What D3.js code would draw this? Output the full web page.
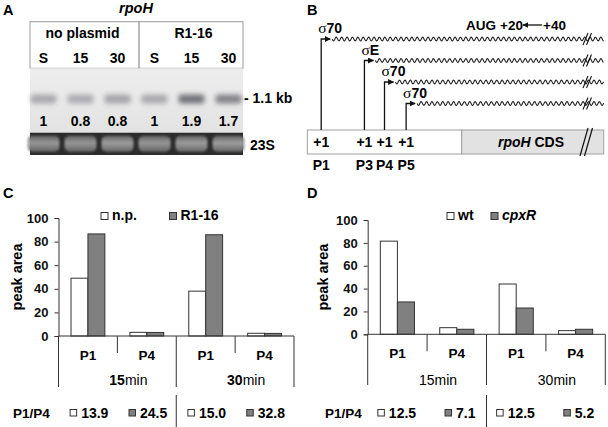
<!DOCTYPE html>
<html>
<head>
<meta charset="utf-8">
<script src="https://cdn.jsdelivr.net/npm/d3@7"></script>
<style>
  body { margin: 0; background: #fff; }
  svg { display: block; font-family: "Liberation Sans", Arial, sans-serif; font-weight: bold; }
</style>
</head>
<body>
<div id="fig"></div>
<script>
'use strict';

// ---- Panel A: northern blot ----
const gelGroups = ['no plasmid', 'R1-16'];
const gelLanes = ['S', '15', '30', 'S', '15', '30'];
const gelQuant = ['1', '0.8', '0.8', '1', '1.9', '1.7'];
const bandDensity = [0.42, 0.40, 0.45, 0.42, 0.80, 0.68];
const rrnaDensity = [0.9, 0.9, 0.95, 0.9, 0.95, 0.95];

// ---- Panel B: promoter map ----
const promoters = ['P1', 'P3', 'P4', 'P5'];
const promoterPos = [9, 37, 50, 64];          // leader position (schematic units)
const sigmaNames = ['70', 'E', '70', '70'];

// ---- Panels C / D: primer extension ----
const timeGroups = ['15min', '30min'];
const promoterCats = ['P1', 'P4'];
const yTicks = [0, 20, 40, 60, 80, 100];

const seriesC = ['n.p.', 'R1-16'];
const npValues = [49, 3.1, 38, 2.3];
const r116Values = [86.5, 3.0, 85.8, 2.2];
const ratiosC = ['13.9', '24.5', '15.0', '32.8'];

const seriesD = ['wt', 'cpxR'];
const wtValues = [81.5, 5.8, 44, 3.2];
const cpxRValues = [28.3, 4.4, 23, 4.4];
const ratiosD = ['12.5', '7.1', '12.5', '5.2'];

/* ````````````````````````````````` svg */
const W = 608, H = 427;
const FS = 14;
const svg = d3.select('#fig').append('svg')
    .attr('width', W)
    .attr('height', H);

const defs = svg.append('defs');
defs.append('filter').attr('id', 'blurBand')
    .attr('x', '-50%').attr('y', '-100%').attr('width', '200%').attr('height', '300%')
    .append('feGaussianBlur').attr('stdDeviation', 2.4);
defs.append('filter').attr('id', 'blurSoft')
    .attr('x', '-30%').attr('y', '-50%').attr('width', '160%').attr('height', '200%')
    .append('feGaussianBlur').attr('stdDeviation', 1.2);
defs.append('marker').attr('id', 'arrowHead')
    .attr('viewBox', '0 0 10 10').attr('refX', 9).attr('refY', 5)
    .attr('markerWidth', 6).attr('markerHeight', 6).attr('markerUnits', 'userSpaceOnUse')
    .attr('orient', 'auto')
    .append('path').attr('d', 'M0,0L10,5L0,10Z').attr('fill', '#111');
const gelGrad = defs.append('linearGradient').attr('id', 'gelGrad')
    .attr('x1', 0).attr('y1', 0).attr('x2', 0).attr('y2', 1);
gelGrad.append('stop').attr('offset', '0%').attr('stop-color', '#ededed');
gelGrad.append('stop').attr('offset', '100%').attr('stop-color', '#e3e3e3');
const rGrad = defs.append('linearGradient').attr('id', 'rrnaGrad')
    .attr('x1', 0).attr('y1', 0).attr('x2', 0).attr('y2', 1);
rGrad.append('stop').attr('offset', '0%').attr('stop-color', '#666');
rGrad.append('stop').attr('offset', '45%').attr('stop-color', '#a4a4a4');
rGrad.append('stop').attr('offset', '100%').attr('stop-color', '#6a6a6a');

// panel letters
[['A', 3, 15], ['B', 307, 15], ['C', 3, 198], ['D', 307, 198]].forEach(([t, x, y]) => {
    svg.append('text').attr('x', x).attr('y', y).attr('font-size', 14.5).text(t);
});

/* ````````````````````````````````` Panel A */
(function drawBlot() {
    const g = svg.append('g');
    const left = 30, right = 243;
    const top = 21.7, headBottom = 68.3, gelBottom = 132.7, bottom = 155;

    const lx = d3.scalePoint().domain(d3.range(gelLanes.length)).range([43.5, 228.5]);

    g.append('text').attr('x', 136).attr('y', 13).attr('text-anchor', 'middle')
        .attr('font-size', 14.5).attr('font-style', 'italic').text('rpoH');

    // header box
    g.append('rect').attr('x', left).attr('y', top)
        .attr('width', right - left).attr('height', headBottom - top)
        .attr('fill', '#fff').attr('stroke', '#9a9a9a');
    const midX = (lx(2) + lx(3)) / 2 + 3;
    g.append('line').attr('x1', midX).attr('x2', midX).attr('y1', top).attr('y2', headBottom)
        .attr('stroke', '#777');

    gelGroups.forEach((name, i) => {
        g.append('text').attr('x', (lx(i * 3) + lx(i * 3 + 2)) / 2 + 2).attr('y', 38)
            .attr('text-anchor', 'middle').attr('font-size', FS).text(name);
    });
    g.selectAll('.lane').data(gelLanes).join('text')
        .attr('class', 'lane')
        .attr('x', (d, i) => lx(i)).attr('y', 63)
        .attr('text-anchor', 'middle').attr('font-size', FS).text(d => d);

    // gel
    g.append('rect').attr('x', left).attr('y', headBottom)
        .attr('width', right - left).attr('height', gelBottom - headBottom)
        .attr('fill', 'url(#gelGrad)');
    g.selectAll('.band').data(bandDensity).join('rect')
        .attr('class', 'band')
        .attr('x', (d, i) => lx(i) - 13).attr('y', 94.5)
        .attr('width', 26).attr('height', 9).attr('rx', 3)
        .attr('fill', '#55555f').attr('opacity', d => d)
        .attr('filter', 'url(#blurBand)');
    g.selectAll('.quant').data(gelQuant).join('text')
        .attr('class', 'quant')
        .attr('x', (d, i) => lx(i)).attr('y', 126)
        .attr('text-anchor', 'middle').attr('font-size', FS).text(d => d);

    // 23S stain
    g.append('rect').attr('x', left).attr('y', gelBottom)
        .attr('width', right - left).attr('height', bottom - gelBottom)
        .attr('fill', '#2c2c2c');
    g.selectAll('.rrna').data(rrnaDensity).join('rect')
        .attr('class', 'rrna')
        .attr('x', (d, i) => lx(i) - 16).attr('y', gelBottom + 3)
        .attr('width', 32).attr('height', 16).attr('rx', 5)
        .attr('fill', 'url(#rrnaGrad)').attr('opacity', d => d)
        .attr('filter', 'url(#blurSoft)');

    g.append('text').attr('x', 244).attr('y', 103).attr('font-size', FS).text('- 1.1 kb');
    g.append('text').attr('x', 250).attr('y', 150).attr('font-size', FS).text('23S');
})();

/* ````````````````````````````````` Panel B */
(function drawMap() {
    const g = svg.append('g');
    const xs = d3.scaleLinear().domain([0, 100]).range([307.3, 461.7]);
    const cdsEnd = 192;
    const boxTop = 130, boxBottom = 154;
    const levels = d3.scalePoint().domain(promoters).range([39, 103.5]);

    // leader + CDS box
    g.append('rect').attr('x', xs(0)).attr('y', boxTop)
        .attr('width', xs(100) - xs(0)).attr('height', boxBottom - boxTop)
        .attr('fill', '#fff').attr('stroke', '#a0a0a0');
    g.append('rect').attr('x', xs(100)).attr('y', boxTop)
        .attr('width', xs(cdsEnd) - xs(100)).attr('height', boxBottom - boxTop)
        .attr('fill', '#e2e2e2').attr('stroke', '#a0a0a0');
    const cdsLabel = g.append('text').attr('x', 531).attr('y', 147)
        .attr('text-anchor', 'middle').attr('font-size', FS);
    cdsLabel.append('tspan').attr('font-style', 'italic').text('rpoH');
    cdsLabel.append('tspan').text(' CDS');
    [0, 4.5].forEach(dx => {
        g.append('line').attr('x1', 580 + dx).attr('x2', 588 + dx)
            .attr('y1', 156).attr('y2', 128).attr('stroke', '#111').attr('stroke-width', 1.2);
    });

    const wave = d3.line().x(d => d[0]).y(d => d[1]);
    promoters.forEach((p, i) => {
        const x = xs(promoterPos[i]);
        const y = levels(p);
        // transcript start arrow
        g.append('path')
            .attr('d', `M${x},${boxTop}V${y}H${x + 9}`)
            .attr('fill', 'none').attr('stroke', '#111').attr('stroke-width', 1.3)
            .attr('marker-end', 'url(#arrowHead)');
        // wavy transcript
        const x0 = x + 11;
        const pts = d3.range(x0, xs(cdsEnd), 0.5).map(px => [px, y + 1.9 * Math.sin((px - x0) / 5.4 * 2 * Math.PI)]);
        g.append('path').attr('d', wave(pts))
            .attr('fill', 'none').attr('stroke', '#222').attr('stroke-width', 1.1);
        [0, 3.5].forEach(dx => {
            g.append('line').attr('x1', 583 + dx).attr('x2', 588 + dx)
                .attr('y1', y + 6).attr('y2', y - 6).attr('stroke', '#111').attr('stroke-width', 1.1);
        });
        // sigma label
        const s = g.append('text').attr('x', x - 3).attr('y', y - 6).attr('font-size', FS);
        s.append('tspan').attr('font-family', '"Liberation Serif", "DejaVu Serif", serif')
            .attr('font-weight', 'normal').attr('font-size', 15.5).text('σ');
        s.append('tspan').text(sigmaNames[i]);
        // +1 and promoter names
        g.append('text').attr('x', x).attr('y', 147).attr('text-anchor', 'middle')
            .attr('font-size', FS).text('+1');
        g.append('text').attr('x', x).attr('y', 170).attr('text-anchor', 'middle')
            .attr('font-size', FS).text(p);
    });

    // AUG +20 <- +40
    g.append('text').attr('x', 466).attr('y', 30).attr('font-size', 13.5).text('AUG');
    g.append('text').attr('x', 500).attr('y', 30).attr('font-size', 13.5).text('+20');
    g.append('line').attr('x1', 542).attr('x2', 523).attr('y1', 25).attr('y2', 25)
        .attr('stroke', '#111').attr('stroke-width', 1.3).attr('marker-end', 'url(#arrowHead)');
    g.append('text').attr('x', 543).attr('y', 30).attr('font-size', 13.5).text('+40');
})();

/* ````````````````````````````````` Panels C, D */
function drawBars(cfg) {
    const g = svg.append('g');
    const cats = [];
    timeGroups.forEach(t => promoterCats.forEach(p => cats.push(`${t}|${p}`)));

    const x = d3.scaleBand().domain(cats).range([cfg.x0, cfg.x1]);
    const bw = x.bandwidth();
    const xs = d3.scaleBand().domain(cfg.series).range([0, bw]).paddingOuter(0.74);
    const y = d3.scaleLinear().domain([0, 100]).range([cfg.yBase, cfg.yTop]);

    const data = [];
    cats.forEach((c, i) => {
        cfg.series.forEach((s, j) => data.push({cat: c, s: s, j: j, v: cfg.values[j][i]}));
    });

    // bars
    g.selectAll('.bar').data(data).join('rect')
        .attr('class', 'bar')
        .attr('x', d => x(d.cat) + xs(d.s))
        .attr('y', d => y(d.v))
        .attr('width', xs.bandwidth())
        .attr('height', d => y(0) - y(d.v))
        .attr('fill', d => d.j === 0 ? '#fff' : '#808080')
        .attr('stroke', '#333').attr('stroke-width', 1);

    // y axis
    const yAxis = g.append('g')
        .attr('transform', `translate(${cfg.x0},0)`)
        .call(d3.axisLeft(y).tickValues(yTicks).tickSize(4).tickPadding(6));
    yAxis.select('.domain').attr('stroke', '#333');
    yAxis.selectAll('.tick line').attr('stroke', '#333');
    yAxis.selectAll('.tick text')
        .attr('font-family', '"Liberation Sans", Arial, sans-serif')
        .attr('font-weight', 'bold').attr('font-size', 13).attr('fill', '#111');

    g.append('text')
        .attr('transform', `translate(${cfg.yLabelX},${(cfg.yBase + cfg.yTop) / 2}) rotate(-90)`)
        .attr('text-anchor', 'middle').attr('font-size', 14.5).text('peak area');

    // baseline and category dividers
    g.append('line').attr('x1', cfg.x0).attr('x2', cfg.x1)
        .attr('y1', y(0)).attr('y2', y(0)).attr('stroke', '#333');
    cats.forEach((c, i) => {
        const xl = x(c);
        const long = i % promoterCats.length === 0;
        g.append('line').attr('x1', xl).attr('x2', xl)
            .attr('y1', y(0)).attr('y2', long ? cfg.groupLineEnd : y(0) + 17)
            .attr('stroke', '#333');
        g.append('text').attr('x', xl + bw / 2).attr('y', y(0) + 24)
            .attr('text-anchor', 'middle').attr('font-size', 13.5).text(c.split('|')[1]);
    });
    g.append('line').attr('x1', cfg.x1).attr('x2', cfg.x1)
        .attr('y1', y(0)).attr('y2', cfg.groupLineEnd).attr('stroke', '#333');

    // time group labels
    timeGroups.forEach((t, i) => {
        const gx = x(`${t}|${promoterCats[0]}`) + bw + 11;
        const lbl = g.append('text').attr('x', gx).attr('y', 385)
            .attr('text-anchor', 'middle').attr('font-size', FS);
        lbl.append('tspan').attr('font-weight', cfg.boldMinutes ? 'bold' : 'normal').text(t.replace('min', ''));
        lbl.append('tspan').attr('font-weight', 'normal').text('min');
    });

    // legend
    cfg.series.forEach((s, j) => {
        g.append('rect').attr('x', cfg.legendX[j]).attr('y', 212.5)
            .attr('width', 7).attr('height', 7)
            .attr('fill', j === 0 ? '#fff' : '#808080').attr('stroke', '#333');
        g.append('text').attr('x', cfg.legendX[j] + 11).attr('y', 220)
            .attr('font-size', FS)
            .attr('font-style', cfg.italicSeries[j] ? 'italic' : 'normal')
            .text(s);
    });

    // P1/P4 ratio row
    g.append('text').attr('x', cfg.ratioLabelX).attr('y', 417.5)
        .attr('font-size', 13.5).text('P1/P4');
    const sepX = x(`${timeGroups[1]}|${promoterCats[0]}`);
    g.append('line').attr('x1', sepX).attr('x2', sepX).attr('y1', 395).attr('y2', H)
        .attr('stroke', '#333');
    cats.forEach((c, i) => {
        const j = i % cfg.series.length;
        const t = g.append('text').attr('x', x(c) + bw - cfg.ratioInset).attr('y', 417.5)
            .attr('text-anchor', 'end').attr('font-size', FS).text(cfg.ratios[i]);
        const tw = t.node().getComputedTextLength();
        g.append('rect').attr('x', x(c) + bw - cfg.ratioInset - tw - 11).attr('y', 409.5)
            .attr('width', 6.5).attr('height', 6.5)
            .attr('fill', j === 0 ? '#fff' : '#808080').attr('stroke', '#333');
    });
}

drawBars({
    x0: 58.5, x1: 294, yBase: 336, yTop: 218,
    series: seriesC, values: [npValues, r116Values], ratios: ratiosC,
    legendX: [101, 169.5], italicSeries: [false, false],
    yLabelX: 22, groupLineEnd: 387, ratioLabelX: 13, ratioInset: 9,
    boldMinutes: true
});
drawBars({
    x0: 367.7, x1: 605.3, yBase: 334.3, yTop: 220,
    series: seriesD, values: [wtValues, cpxRValues], ratios: ratiosD,
    legendX: [447, 491], italicSeries: [false, true],
    yLabelX: 328, groupLineEnd: 385, ratioLabelX: 325, ratioInset: 11,
    boldMinutes: false
});
</script>
</body>
</html>
